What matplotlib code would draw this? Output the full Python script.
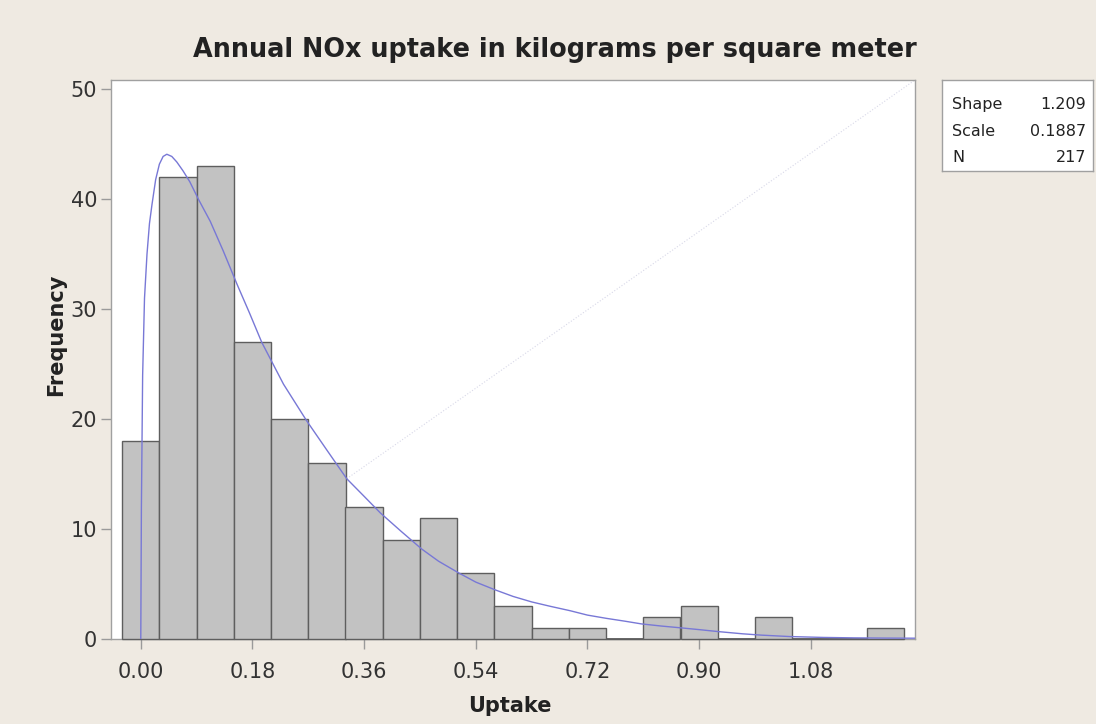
import numpy as np
import matplotlib
matplotlib.use('Agg')
import matplotlib.pyplot as plt

# Histogram data (bin centres, bin width 0.06)
bin_centers = [0.00, 0.06, 0.12, 0.18, 0.24, 0.30, 0.36, 0.42, 0.48, 0.54, 0.60,
               0.66, 0.72, 0.78, 0.84, 0.90, 0.96, 1.02, 1.08, 1.14, 1.20]
counts = [18, 42, 43, 27, 20, 16, 12, 9, 11, 6, 3,
          1, 1, 0, 2, 3, 0, 2, 0, 0, 1]
bin_width = 0.06

# Fitted Weibull curve
fit_x = [0.000, 0.001, 0.003, 0.006, 0.010, 0.014, 0.018, 0.024, 0.030, 0.036,
         0.042, 0.050, 0.058, 0.068, 0.079, 0.093, 0.112, 0.133, 0.155, 0.175,
         0.195, 0.230, 0.267, 0.300, 0.332, 0.360, 0.386, 0.420, 0.453, 0.480,
         0.512, 0.540, 0.571, 0.600, 0.630, 0.660, 0.692, 0.720, 0.751, 0.780,
         0.807, 0.840, 0.869, 0.900, 0.931, 0.970, 1.000, 1.046, 1.100, 1.150,
         1.200, 1.248]
fit_y = [0.0, 12.0, 24.0, 31.0, 35.0, 37.8, 39.5, 41.8, 43.2, 43.9,
         44.1, 43.9, 43.4, 42.6, 41.6, 40.0, 38.0, 35.3, 32.3, 29.7,
         27.0, 23.2, 19.9, 17.2, 14.6, 13.0, 11.5, 9.8, 8.2, 7.1,
         6.05, 5.2, 4.5, 3.9, 3.4, 3.0, 2.6, 2.2, 1.9, 1.65,
         1.4, 1.2, 1.05, 0.88, 0.7, 0.5, 0.38, 0.25, 0.17, 0.13,
         0.11, 0.10]

stats_names = ['Shape', 'Scale', 'N']
stats_values = ['1.209', '0.1887', '217']

xticks = [0.00, 0.18, 0.36, 0.54, 0.72, 0.90, 1.08]
yticks = [0, 10, 20, 30, 40, 50]

bg = '#efeae2'
fig = plt.figure(figsize=(10.96, 7.24), dpi=100, facecolor=bg)
ax = fig.add_axes([111 / 1096, 1 - 639.3 / 724, 804 / 1096, 559.3 / 724])
ax.set_facecolor('white')

bars = ax.bar(bin_centers, counts, width=bin_width, color='#c2c2c2',
              edgecolor='#5e5e5e', linewidth=1.0, zorder=3)
for b in bars:
    b.set_clip_on(False)
# empty bins still show as a dark outline on the baseline
empty = [c for c, n in zip(bin_centers, counts) if n == 0]
ax.hlines([0] * len(empty), [c - bin_width / 2 for c in empty],
          [c + bin_width / 2 for c in empty], color='#5e5e5e',
          linewidth=1.3, zorder=3, clip_on=False)
ax.plot(fit_x, fit_y, color='#7878d6', linewidth=1.0, zorder=4)

ax.set_xlim(-0.048, 1.248)
ax.set_ylim(0, 50.85)

# faint scan artifact running from the curve to the top-right corner
i0 = 24
ax.plot([fit_x[i0], 1.248], [fit_y[i0], 50.85], color='#d8d8e8',
        linewidth=0.8, linestyle=':', zorder=1)

ax.set_xticks(xticks)
ax.set_xticklabels([f'{v:.2f}' for v in xticks])
ax.set_yticks(yticks)
ax.tick_params(axis='both', direction='out', length=7, width=1,
               color='#9a9a9a', labelcolor='#333333', labelsize=15)
ax.tick_params(axis='x', pad=9)
ax.tick_params(axis='y', pad=3)

for s in ax.spines.values():
    s.set_color('#a0a0a0')
    s.set_linewidth(1.0)

ax.set_xlabel('Uptake', fontsize=15, fontweight='bold', color='#222222')
ax.xaxis.set_label_coords((510 - 111) / 804, (639.3 - 696) / 559.3)
ax.set_ylabel('Frequency', fontsize=15, fontweight='bold', color='#222222')
ax.yaxis.set_label_coords((66 - 111) / 804, (639.3 - 335) / 559.3)

fig.text(555 / 1096, 1 - 50 / 724, 'Annual NOx uptake in kilograms per square meter',
         ha='center', va='center', fontsize=18.4, fontweight='bold', color='#222222')

# stats box
box = fig.add_axes([942 / 1096, 1 - 171 / 724, 151 / 1096, 91 / 724])
box.set_facecolor('white')
box.set_xticks([])
box.set_yticks([])
for s in box.spines.values():
    s.set_color('#a0a0a0')
    s.set_linewidth(1.0)
rows_y = [0.736, 0.432, 0.15]
for name, val, yy in zip(stats_names, stats_values, rows_y):
    box.text(0.066, yy, name, ha='left', va='center', fontsize=11.5,
             color='#222222', transform=box.transAxes)
    box.text(0.954, yy, val, ha='right', va='center', fontsize=11.5,
             color='#222222', transform=box.transAxes)

fig.savefig('out.png', dpi=100, facecolor=bg)
